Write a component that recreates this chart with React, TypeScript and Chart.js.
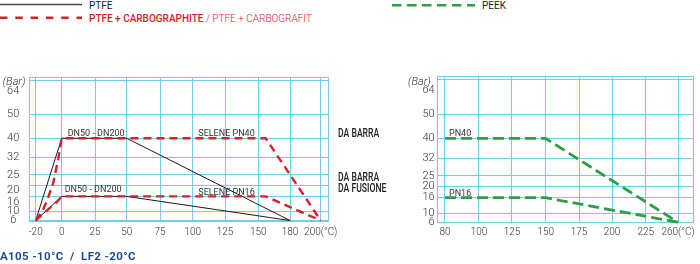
import React, { useEffect, useRef } from 'react';
import { Chart, registerables, LinearScale } from 'chart.js';

Chart.register(...registerables);

// ---------------- data ----------------
const pressureTicks = [6, 10, 16, 20, 25, 32, 40, 50, 64];
const leftTempTicks = [-20, 0, 25, 50, 75, 100, 125, 150, 180, 200];
const rightTempTicks = [80, 100, 125, 150, 175, 200, 225, 260];

const ptfePN40 = [{ x: -20, y: 6 }, { x: 0, y: 40 }, { x: 50, y: 40 }, { x: 180, y: 6 }];
const ptfePN16 = [{ x: -20, y: 6 }, { x: 0, y: 16 }, { x: 50, y: 16 }, { x: 180, y: 6 }];
const carboPN40 = [
  { x: -20, y: 6 }, { x: -15, y: 10 }, { x: -11.5, y: 14 }, { x: -6.5, y: 21 },
  { x: -2.5, y: 32 }, { x: 0, y: 40 }, { x: 157, y: 40 }, { x: 200, y: 6 },
];
const carboPN16 = [
  { x: -20, y: 6 }, { x: -10, y: 11 }, { x: -4, y: 13.6 }, { x: 0, y: 16 },
  { x: 157, y: 16 }, { x: 200, y: 6 },
];
const peekPN40 = [{ x: 80, y: 40 }, { x: 150, y: 40 }, { x: 260, y: 6 }];
const peekPN16 = [{ x: 80, y: 16 }, { x: 150, y: 16 }, { x: 260, y: 6 }];

const leftNotes = ['DN50 - DN200', 'DN50 - DN200', 'SELENE PN40', 'SELENE PN16'];
const leftNoteAnchors = [{ x: 0, y: 40 }, { x: 0, y: 16 }, { x: 100, y: 40 }, { x: 100, y: 16 }];
const rightNotes = ['PN40', 'PN16'];
const rightNoteAnchors = [{ x: 80, y: 40 }, { x: 80, y: 16 }];

// ---------------- layout / style ----------------
// relative position (0..1 of the plot area) of every tick on the printed, non-uniform axes
const pressureFracs = [0, 0.063, 0.168, 0.247, 0.318, 0.4375, 0.573, 0.739, 0.979];
const leftTempFracs = [0.0214, 0.1085, 0.22, 0.3261, 0.4376, 0.547, 0.6552, 0.7667, 0.8728, 0.9756];
const rightTempFracs = [0.0324, 0.1652, 0.2941, 0.4258, 0.5559, 0.6848, 0.8164, 0.9426];
const leftNoteOffsets = [{ dx: 6, dy: -2 }, { dx: 3, dy: -4 }, { dx: 5.6, dy: -2 }, { dx: 5.6, dy: -1.5 }];
const rightNoteOffsets = [{ dx: 4, dy: -2.6 }, { dx: 4, dy: -2 }];

const GRID = '#6fcdf2';
const BLACK = '#1a1a1a';
const RED = '#d8202a';
const GREEN = '#2e9e46';
const FONT = 'Roboto';

if (typeof document !== 'undefined') document.body.style.margin = '0';

function toFrac(v: number, vals: number[], fr: number[]) {
  const n = vals.length;
  let i = 0;
  if (v <= vals[0]) i = 0;
  else if (v >= vals[n - 1]) i = n - 2;
  else { while (i < n - 2 && v > vals[i + 1]) i++; }
  return fr[i] + ((v - vals[i]) * (fr[i + 1] - fr[i])) / (vals[i + 1] - vals[i]);
}
function fromFrac(f: number, vals: number[], fr: number[]) {
  const n = fr.length;
  let i = 0;
  if (f <= fr[0]) i = 0;
  else if (f >= fr[n - 1]) i = n - 2;
  else { while (i < n - 2 && f > fr[i + 1]) i++; }
  return vals[i] + ((f - fr[i]) * (vals[i + 1] - vals[i])) / (fr[i + 1] - fr[i]);
}

function makeScale(id: string, vals: number[], fr: number[]) {
  class PiecewiseScale extends (LinearScale as any) {
    static id = id;
    static defaults = {};
    determineDataLimits() { (this as any).min = vals[0]; (this as any).max = vals[vals.length - 1]; }
    buildTicks() { return vals.map((value) => ({ value })); }
    getPixelForValue(value: number) { return (this as any).getPixelForDecimal(toFrac(value, vals, fr)); }
    getValueForPixel(pixel: number) { return fromFrac((this as any).getDecimalForPixel(pixel), vals, fr); }
  }
  return PiecewiseScale;
}

Chart.register(
  makeScale('pressureAxis', pressureTicks, pressureFracs) as any,
  makeScale('tempLeftAxis', leftTempTicks, leftTempFracs) as any,
  makeScale('tempRightAxis', rightTempTicks, rightTempFracs) as any,
);

const framePlugin = {
  id: 'frame',
  beforeDatasetsDraw(chart: any) {
    const { ctx, chartArea: a } = chart;
    ctx.save();
    ctx.strokeStyle = GRID;
    ctx.lineWidth = 1;
    ctx.strokeRect(Math.round(a.left) + 0.5, Math.round(a.top) + 0.5, Math.round(a.right - a.left), Math.round(a.bottom - a.top));
    ctx.restore();
  },
};

function notesPlugin(texts: string[], anchors: { x: number; y: number }[], offs: { dx: number; dy: number }[]) {
  return {
    id: 'notes',
    afterDatasetsDraw(chart: any) {
      const { ctx, scales } = chart;
      ctx.save();
      ctx.font = `400 9px ${FONT}`;
      ctx.fillStyle = '#333';
      ctx.textAlign = 'left';
      ctx.textBaseline = 'alphabetic';
      texts.forEach((t, i) => {
        const px = scales.x.getPixelForValue(anchors[i].x) + offs[i].dx;
        const py = scales.y.getPixelForValue(anchors[i].y) + offs[i].dy;
        ctx.fillText(t, px, py);
      });
      ctx.restore();
    },
  };
}

function lineDs(data: any[], color: string, width: number, dash: number[]) {
  return {
    data,
    borderColor: color,
    backgroundColor: color,
    borderWidth: width,
    borderDash: dash,
    pointRadius: 0,
    fill: false,
    tension: 0,
  };
}

const fitX = (h: number) => (s: any) => { s.height = h; s.paddingLeft = 0; s.paddingRight = 0; };
const fitY = (w: number) => (s: any) => { s.width = w; s.paddingTop = 0; s.paddingBottom = 0; };

function buildLeft(canvas: HTMLCanvasElement) {
  return new Chart(canvas, {
    type: 'line',
    data: {
      datasets: [
        lineDs(carboPN40, RED, 2.4, [8, 5]),
        lineDs(carboPN16, RED, 2.4, [8, 5]),
        lineDs(ptfePN40, BLACK, 1, []),
        lineDs(ptfePN16, BLACK, 1, []),
      ] as any,
    },
    options: {
      animation: false,
      responsive: false,
      layout: { padding: { left: 0, top: 17, right: 72, bottom: 0 } },
      plugins: { legend: { display: false }, tooltip: { enabled: false } },
      scales: {
        x: {
          type: 'tempLeftAxis' as any,
          grid: { color: GRID, lineWidth: 1, drawTicks: false },
          border: { display: false },
          afterFit: fitX(29.5),
          ticks: {
            autoSkip: false, maxRotation: 0, padding: 5.8, color: '#333',
            font: { family: FONT, size: 10, weight: '300' as any },
            callback: (v: any, i: number, t: any[]) => (i === t.length - 1 ? `${v}(°C)` : String(v)),
          },
        },
        y: {
          type: 'pressureAxis' as any,
          grid: { color: GRID, lineWidth: 1, drawTicks: false },
          border: { display: false },
          afterFit: fitY(29.3),
          ticks: {
            autoSkip: false, padding: 10, crossAlign: 'center', color: '#333',
            font: (c: any) => {
              const v = c.tick ? c.tick.value : 0;
              const lh = v === 64 ? 2.1 : v === 20 ? 1.0 : v === 16 ? 1.1 : 1.2;
              return { family: FONT, size: 11, weight: '300', lineHeight: lh } as any;
            },
            callback: (v: any) => (v === 64 || v === 20 || v === 16 ? ['', String(v)] : String(v)),
          },
        },
      } as any,
    },
    plugins: [framePlugin, notesPlugin(leftNotes, leftNoteAnchors, leftNoteOffsets)],
  });
}

function buildRight(canvas: HTMLCanvasElement) {
  return new Chart(canvas, {
    type: 'line',
    data: {
      datasets: [
        lineDs(peekPN40, GREEN, 2.8, [11, 5]),
        lineDs(peekPN16, GREEN, 2.8, [11, 5]),
      ] as any,
    },
    options: {
      animation: false,
      responsive: false,
      layout: { padding: { left: 0, top: 16, right: 7.3, bottom: 0 } },
      plugins: { legend: { display: false }, tooltip: { enabled: false } },
      scales: {
        x: {
          type: 'tempRightAxis' as any,
          grid: { color: GRID, lineWidth: 1, drawTicks: false },
          border: { display: false },
          afterFit: fitX(27.7),
          ticks: {
            autoSkip: false, maxRotation: 0, padding: 4.4, color: '#333',
            font: { family: FONT, size: 10, weight: '300' as any },
            callback: (v: any, i: number, t: any[]) => (i === t.length - 1 ? `${v}(°C)` : String(v)),
          },
        },
        y: {
          type: 'pressureAxis' as any,
          grid: { color: GRID, lineWidth: 1, drawTicks: false },
          border: { display: false },
          afterFit: fitY(56.7),
          ticks: {
            autoSkip: false, padding: 2, color: '#333',
            font: (c: any) => {
              const v = c.tick ? c.tick.value : 0;
              return { family: FONT, size: 11, weight: '300', lineHeight: v === 64 ? 2.0 : 1.2 } as any;
            },
            callback: (v: any) => (v === 64 ? ['', String(v)] : String(v)),
          },
        },
      } as any,
    },
    plugins: [framePlugin, notesPlugin(rightNotes, rightNoteAnchors, rightNoteOffsets)],
  });
}

const abs = (l: number, t: number, extra: React.CSSProperties = {}): React.CSSProperties => ({
  position: 'absolute', left: l, top: t, whiteSpace: 'pre', ...extra,
});

export default function App() {
  const leftRef = useRef<HTMLCanvasElement>(null);
  const rightRef = useRef<HTMLCanvasElement>(null);

  useEffect(() => {
    const a = buildLeft(leftRef.current!);
    const b = buildRight(rightRef.current!);
    return () => { a.destroy(); b.destroy(); };
  }, []);

  const sideLabel: React.CSSProperties = {
    fontSize: 12, lineHeight: '12px', fontWeight: 500, color: '#222',
    transform: 'scaleX(0.72)', transformOrigin: 'left center',
  };
  const barLabel: React.CSSProperties = {
    fontSize: 11, lineHeight: '11px', fontStyle: 'italic', fontWeight: 300, color: '#333',
  };

  return (
    <div style={{ position: 'relative', width: 700, height: 264, background: '#fff', overflow: 'hidden', fontFamily: FONT }}>
      <svg width={700} height={26} style={{ position: 'absolute', left: 0, top: 0 }}>
        <line x1={0} y1={4.5} x2={82} y2={4.5} stroke="#444" strokeWidth={1.4} />
        <line x1={0} y1={17.7} x2={82} y2={17.7} stroke={RED} strokeWidth={2.6} strokeDasharray="7.5 7.8" />
        <line x1={392} y1={5.3} x2={475} y2={5.3} stroke={GREEN} strokeWidth={2.4} strokeDasharray="9.5 5.5" />
      </svg>
      <div style={abs(89, 1.1, { fontSize: 10, lineHeight: '10px', color: '#222' })}>PTFE</div>
      <div style={abs(89, 14.3, { fontSize: 10, lineHeight: '10px', color: RED })}>
        <span style={{ fontWeight: 500 }}>PTFE + CARBOGRAPHITE</span>
        <span style={{ fontWeight: 300 }}>{' / PTFE + CARBOGRAFIT'}</span>
      </div>
      <div style={abs(482, 0.6, { fontSize: 10, lineHeight: '10px', color: '#222' })}>PEEK</div>

      <div style={abs(0, 60)}>
        <canvas ref={leftRef} width={400} height={190} style={{ width: 400, height: 190, display: 'block' }} />
      </div>
      <div style={abs(380, 60)}>
        <canvas ref={rightRef} width={320} height={190} style={{ width: 320, height: 190, display: 'block' }} />
      </div>

      <div style={abs(2.7, 75.6, barLabel)}>(Bar)</div>
      <div style={abs(408, 75.6, barLabel)}>(Bar)</div>

      <div style={abs(338, 126.7, sideLabel)}>DA BARRA</div>
      <div style={abs(338, 170.9, sideLabel)}>DA BARRA</div>
      <div style={abs(338, 182.2, sideLabel)}>DA FUSIONE</div>

      <div style={abs(0, 251.4, { fontSize: 11.5, lineHeight: '11px', fontWeight: 700, color: '#1f4d8f', letterSpacing: 0.35 })}>
        {'A105 -10°C  /  LF2 -20°C'}
      </div>
    </div>
  );
}
